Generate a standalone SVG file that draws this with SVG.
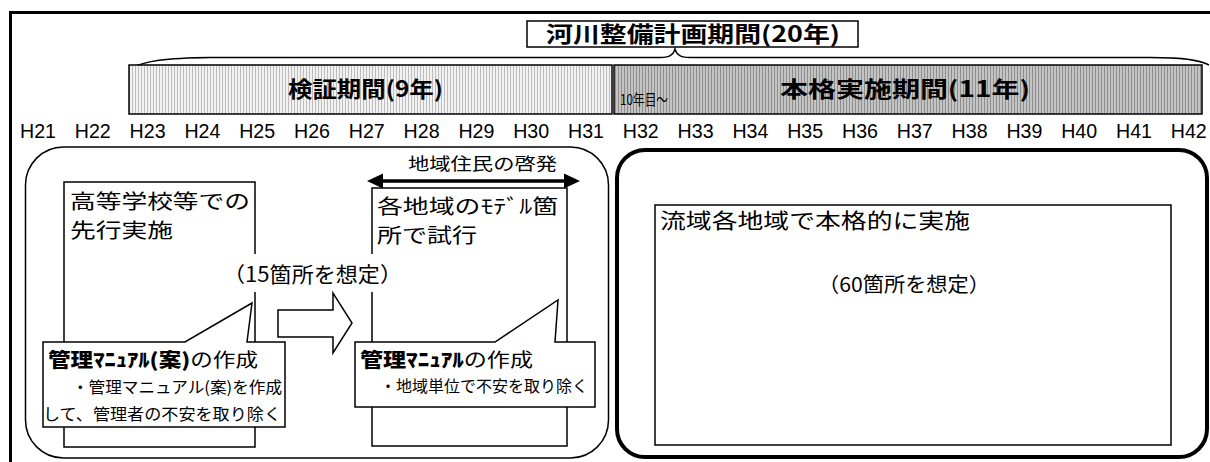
<svg xmlns="http://www.w3.org/2000/svg" width="1210" height="462" viewBox="0 0 1210 462">
<defs>
<pattern id="hatch1" width="3" height="4" patternUnits="userSpaceOnUse">
<rect width="3" height="4" fill="#f2f2f2"/>
<rect x="0" width="1" height="4" fill="#bdbdbd"/>
</pattern>
<pattern id="hatch2" width="3" height="4" patternUnits="userSpaceOnUse">
<rect width="3" height="4" fill="#c4c4c4"/>
<rect x="0" width="1" height="4" fill="#8e8e8e"/>
</pattern>
</defs>
<style>
.jp{font-family:"Noto Sans CJK JP","Liberation Sans",sans-serif;fill:#000}
.yr{font-family:"Liberation Sans","Noto Sans CJK JP",sans-serif;font-size:20px;fill:#000}
.b{font-weight:bold}
.box{fill:#fff;stroke:#000;stroke-width:1.5}
.ln{fill:none;stroke:#000}
</style>
<rect width="1210" height="462" fill="#fff"/>
<path class="ln" d="M10.5,462 V12.5 H1210" stroke-width="3"/>
<g id="title">
<rect class="box" x="527" y="21" width="331" height="26"/>
<text class="jp b" x="546" y="42" font-size="22" textLength="294" lengthAdjust="spacingAndGlyphs">河川整備計画期間(20年)</text>
</g>
<g id="brace">
<path class="ln" stroke-width="1.5" d="M132,68 C145,61 165,58 210,57.5 L660,57.5 C668,57.5 673,56 675,49 C677,56 682,57.5 690,57.5 L1150,57.5 C1185,57.5 1200,60 1209,65"/>
</g>
<g id="bar1">
<rect x="129" y="65" width="483" height="49" fill="url(#hatch1)" stroke="#000" stroke-width="1.5"/>
<text class="jp b" x="288" y="97" font-size="22" textLength="155" lengthAdjust="spacingAndGlyphs">検証期間(9年)</text>
</g>
<g id="bar2">
<rect x="614" y="65" width="588" height="49" fill="url(#hatch2)" stroke="#000" stroke-width="1.5"/>
<text class="jp b" x="780" y="97" font-size="22" textLength="250" lengthAdjust="spacingAndGlyphs">本格実施期間(11年)</text>
<text class="jp" x="620" y="105" font-size="15" textLength="48" lengthAdjust="spacingAndGlyphs">10年目～</text>
</g>
<g id="years">
<text class="yr" x="20" y="138" textLength="36" lengthAdjust="spacingAndGlyphs">H21</text>
<text class="yr" x="74.8" y="138" textLength="36" lengthAdjust="spacingAndGlyphs">H22</text>
<text class="yr" x="129.6" y="138" textLength="36" lengthAdjust="spacingAndGlyphs">H23</text>
<text class="yr" x="184.4" y="138" textLength="36" lengthAdjust="spacingAndGlyphs">H24</text>
<text class="yr" x="239.2" y="138" textLength="36" lengthAdjust="spacingAndGlyphs">H25</text>
<text class="yr" x="294" y="138" textLength="36" lengthAdjust="spacingAndGlyphs">H26</text>
<text class="yr" x="348.8" y="138" textLength="36" lengthAdjust="spacingAndGlyphs">H27</text>
<text class="yr" x="403.6" y="138" textLength="36" lengthAdjust="spacingAndGlyphs">H28</text>
<text class="yr" x="458.4" y="138" textLength="36" lengthAdjust="spacingAndGlyphs">H29</text>
<text class="yr" x="513.2" y="138" textLength="36" lengthAdjust="spacingAndGlyphs">H30</text>
<text class="yr" x="568" y="138" textLength="36" lengthAdjust="spacingAndGlyphs">H31</text>
<text class="yr" x="622.8" y="138" textLength="36" lengthAdjust="spacingAndGlyphs">H32</text>
<text class="yr" x="677.6" y="138" textLength="36" lengthAdjust="spacingAndGlyphs">H33</text>
<text class="yr" x="732.4" y="138" textLength="36" lengthAdjust="spacingAndGlyphs">H34</text>
<text class="yr" x="787.2" y="138" textLength="36" lengthAdjust="spacingAndGlyphs">H35</text>
<text class="yr" x="842" y="138" textLength="36" lengthAdjust="spacingAndGlyphs">H36</text>
<text class="yr" x="896.8" y="138" textLength="36" lengthAdjust="spacingAndGlyphs">H37</text>
<text class="yr" x="951.6" y="138" textLength="36" lengthAdjust="spacingAndGlyphs">H38</text>
<text class="yr" x="1006.4" y="138" textLength="36" lengthAdjust="spacingAndGlyphs">H39</text>
<text class="yr" x="1061.2" y="138" textLength="36" lengthAdjust="spacingAndGlyphs">H40</text>
<text class="yr" x="1116" y="138" textLength="36" lengthAdjust="spacingAndGlyphs">H41</text>
<text class="yr" x="1170.8" y="138" textLength="36" lengthAdjust="spacingAndGlyphs">H42</text>
</g>
<g id="verify-phase">
<rect class="ln" x="25.5" y="147" width="583" height="311" rx="38" stroke-width="1.5"/>
</g>
<g id="school">
<rect class="box" x="64" y="182" width="191" height="265"/>
<text class="jp" x="70" y="209" font-size="20" textLength="180" lengthAdjust="spacingAndGlyphs">高等学校等での</text>
<text class="jp" x="70" y="238" font-size="20" textLength="103" lengthAdjust="spacingAndGlyphs">先行実施</text>
</g>
<g id="model">
<rect class="box" x="372" y="188" width="195" height="258"/>
<text class="jp" x="377" y="214" font-size="20" textLength="181" lengthAdjust="spacingAndGlyphs">各地域のﾓﾃﾞﾙ箇</text>
<text class="jp" x="377" y="243" font-size="20" textLength="100" lengthAdjust="spacingAndGlyphs">所で試行</text>
</g>
<g id="count15">
<rect x="222" y="254" width="183" height="38" fill="#fff"/>
<text class="jp" x="223" y="282" font-size="21" textLength="179" lengthAdjust="spacingAndGlyphs">（15箇所を想定）</text>
</g>
<g id="connectors">
<path class="box" d="M278,310 H333 V293 L352,323 L333,353 V337 H278 Z"/>
<line x1="380" y1="181" x2="567" y2="181" stroke="#000" stroke-width="3.5"/>
<path d="M367,181 L383,173.5 L383,188.5 Z M580,181 L564,173.5 L564,188.5 Z" fill="#000"/>
</g>
<g id="awareness">
<text class="jp" x="408" y="170" font-size="17" textLength="149" lengthAdjust="spacingAndGlyphs">地域住民の啓発</text>
</g>
<g id="callout1">
<path class="box" d="M43,342 H185 L252,303 L247,342 H285 V427 H43 Z"/>
<text class="jp" x="48" y="367" font-size="19" textLength="210" lengthAdjust="spacingAndGlyphs"><tspan font-weight="900">管理ﾏﾆｭｱﾙ(案)</tspan>の作成</text>
<text class="jp" x="72" y="393" font-size="16" textLength="210" lengthAdjust="spacingAndGlyphs">・管理マニュアル(案)を作成</text>
<text class="jp" x="43" y="420" font-size="16" textLength="238" lengthAdjust="spacingAndGlyphs">して、管理者の不安を取り除く</text>
</g>
<g id="callout2">
<path class="box" d="M355,342 H495 L558,300 L555,342 H595 V407 H355 Z"/>
<text class="jp" x="360" y="367" font-size="19" textLength="173" lengthAdjust="spacingAndGlyphs"><tspan font-weight="900">管理ﾏﾆｭｱﾙ</tspan>の作成</text>
<text class="jp" x="380" y="392" font-size="16" textLength="208" lengthAdjust="spacingAndGlyphs">・地域単位で不安を取り除く</text>
</g>
<g id="full-phase">
<rect class="ln" x="617" y="150" width="590" height="307" rx="28" stroke-width="4"/>
<rect class="box" x="655" y="205" width="516" height="240"/>
<text class="jp" x="660" y="228" font-size="21" textLength="310" lengthAdjust="spacingAndGlyphs">流域各地域で本格的に実施</text>
<text class="jp" x="818" y="292" font-size="20" textLength="172" lengthAdjust="spacingAndGlyphs">（60箇所を想定）</text>
</g>
</svg>
